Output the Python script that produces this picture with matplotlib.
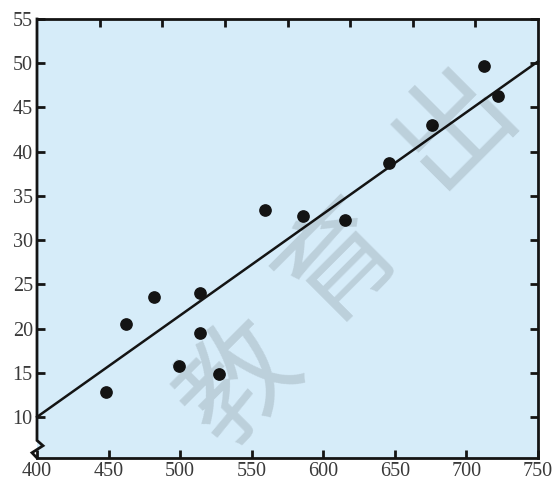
import matplotlib
matplotlib.use("Agg")
import matplotlib.pyplot as plt

# data
x_vals = [448, 462, 482, 499, 514, 514, 527, 559, 586, 615, 646, 676, 712, 722]
y_vals = [12.8, 20.5, 23.6, 15.8, 24.0, 19.5, 14.9, 33.4, 32.7, 32.3, 38.7, 43.0, 49.7, 46.3]
line_x = [400, 750]
line_y = [10, 50.2]
x_ticks = [400, 450, 500, 550, 600, 650, 700, 750]
y_ticks = [10, 15, 20, 25, 30, 35, 40, 45, 50, 55]
top_ticks = [443.75, 487.5, 531.25, 575, 618.75, 662.5, 706.25]
watermark = ["教", "育", "出"]

bg = "#d6ecf9"
ink = "#141414"
label_col = "#3a3a3a"

fig = plt.figure(figsize=(5.55, 4.8), dpi=100)
ax = fig.add_axes([37 / 555, 1 - 458 / 480, 501 / 555, 439 / 480])
ax.set_facecolor(bg)

ax.plot(line_x, line_y, color=ink, lw=1.8, zorder=3, clip_on=False)
ax.scatter(x_vals, y_vals, s=66, color=ink, zorder=4)

ax.set_xlim(400, 750)
ax.set_ylim(5.36, 55)
ax.set_xticks(x_ticks)
ax.set_yticks(y_ticks)
ax.tick_params(direction="in", length=6, width=2, color=ink,
               labelsize=14.5, labelcolor=label_col, right=True)
ax.tick_params(axis="y", pad=3)
ax.tick_params(axis="x", pad=3)
for lab in ax.get_xticklabels() + ax.get_yticklabels():
    lab.set_fontfamily("Liberation Serif")

# top ticks sit on their own spacing
top = ax.secondary_xaxis("top")
top.set_xticks(top_ticks)
top.tick_params(direction="in", length=6, width=2, color=ink, labeltop=False)
top.spines["top"].set_visible(False)

for side in ["top", "right", "bottom"]:
    ax.spines[side].set_linewidth(2)
    ax.spines[side].set_color(ink)
ax.spines["left"].set_visible(False)

# left spine with a break mark near the bottom
bx = [0, 0, 0.012, -0.010, 0]
by = [1, 0.040, 0.028, 0.012, 0]
ax.plot(bx, by, transform=ax.transAxes, color=ink, lw=2,
        clip_on=False, zorder=5, solid_joinstyle="miter")

# faint watermark
wm_pos = [(240, 385), (340, 262), (455, 125)]
for ch, (px, py) in zip(watermark, wm_pos):
    fig.text(px / 555, 1 - py / 480, ch, fontsize=84, rotation=45,
             family=["Noto Sans CJK SC"], color="black", alpha=0.12,
             ha="center", va="center", zorder=0)

fig.savefig("out.png", dpi=100)
